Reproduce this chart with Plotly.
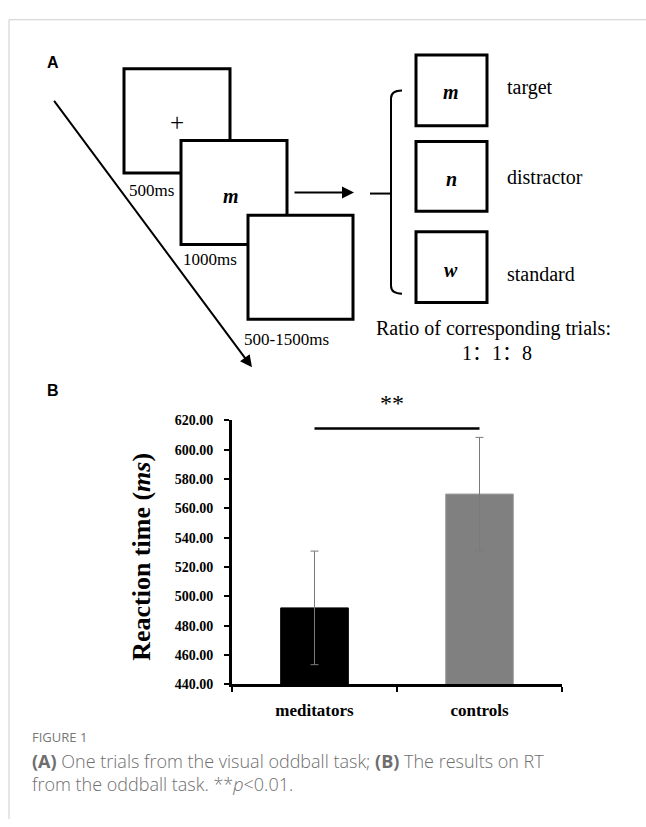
import plotly.graph_objects as go

# ---------------- data ----------------
categories = ["meditators", "controls"]
rt_means = [492.2, 569.8]
rt_errors = [38.7, 38.6]
bar_colors = ["#000000", "#808080"]
y_tick_values = [440, 460, 480, 500, 520, 540, 560, 580, 600, 620]
sig_y = 614.5
sig_label = "**"

durations = ["500ms", "1000ms", "500-1500ms"]
stim_letters = ["m", "n", "w"]
trial_types = ["target", "distractor", "standard"]
ratio_title = "Ratio of corresponding trials:"
ratio_text = "1：1：8"

# ---------------- canvas helpers ----------------
W, H = 646, 827
SERIF = "Liberation Serif, Times New Roman, serif"
SERIF_CJK = "Liberation Serif, Noto Sans CJK SC, serif"
SANS = "Liberation Sans, Arial, sans-serif"
CAP = "Open Sans, Noto Sans, sans-serif"


def px(x):
    return x / W


def py(y):
    return 1 - y / H


fig = go.Figure()

fig.add_trace(go.Bar(
    x=categories, y=rt_means,
    marker=dict(color=bar_colors, line=dict(color=["#000000", "#a0a0a0"], width=1)),
    error_y=dict(type="data", array=rt_errors, color="#7a7a7a", thickness=1, width=4),
    width=0.41,
    showlegend=False,
    hoverinfo="x+y",
))

shapes = []
annotations = []

# figure frame (light grey border, top and left)
shapes.append(dict(type="line", xref="paper", yref="paper", x0=px(9), x1=px(W), y0=py(13), y1=py(13),
                   line=dict(color="#cccccc", width=1)))
shapes.append(dict(type="line", xref="paper", yref="paper", x0=px(9), x1=px(9), y0=py(13), y1=py(H),
                   line=dict(color="#cccccc", width=1)))

# ---------- panel A: schematic ----------
def box(x0, y0, x1, y1, w=3):
    shapes.append(dict(type="rect", xref="paper", yref="paper", x0=px(x0), x1=px(x1), y0=py(y0), y1=py(y1),
                       line=dict(color="black", width=w), fillcolor="white", layer="above"))

box(124, 63, 230, 169)
box(181, 136, 287, 242)
box(248, 212, 353, 318)
box(416, 49, 487, 121)
box(416, 137, 487, 208)
box(416, 229, 487, 301)

# bracket
bracket = (f"M {px(402)},{py(85)} Q {px(391)},{py(85)} {px(391)},{py(93)} L {px(391)},{py(284)} "
           f"Q {px(391)},{py(292)} {px(402)},{py(292)}")
shapes.append(dict(type="path", xref="paper", yref="paper", path=bracket,
                   line=dict(color="black", width=2)))
shapes.append(dict(type="line", xref="paper", yref="paper", x0=px(370), x1=px(391), y0=py(190), y1=py(190),
                   line=dict(color="black", width=2)))


def text(x, y, s, size, family=SERIF, xanchor="center", yanchor="middle", color="black", weight=None, **kw):
    font = dict(family=family, size=size, color=color)
    if weight is not None:
        font["weight"] = weight
    annotations.append(dict(x=px(x), y=py(y), xref="paper", yref="paper", text=s, showarrow=False,
                            xanchor=xanchor, yanchor=yanchor, font=font, **kw))

# diagonal time arrow
annotations.append(dict(x=px(252), y=py(367), xref="paper", yref="paper", ax=53 - 252, ay=99 - 367,
                        axref="pixel", ayref="pixel", showarrow=True, arrowhead=2, arrowsize=1.2,
                        arrowwidth=2, arrowcolor="black", standoff=0, text=""))
# horizontal arrow
annotations.append(dict(x=px(354), y=py(189), xref="paper", yref="paper", ax=-61, ay=0,
                        axref="pixel", ayref="pixel", showarrow=True, arrowhead=2, arrowsize=1.2,
                        arrowwidth=2, arrowcolor="black", standoff=0, text=""))

text(177, 118, "+", 25)
text(231, 193, "<b><i>m</i></b>", 20)
text(127, 187, durations[0], 17, xanchor="left")
text(181, 257, durations[1], 17, xanchor="left")
text(242, 339, durations[2], 17, xanchor="left")

letter_y = [87, 175, 268]
label_y = [82, 173, 272]
for ly, lab_y, letter, ttype in zip(letter_y, label_y, stim_letters, trial_types):
    text(451, ly, f"<b><i>{letter}</i></b>", 20)
    text(505, lab_y, ttype, 20, xanchor="left")

text(493, 327, ratio_title, 20)
text(497, 352, ratio_text, 20, family=SERIF_CJK)

# panel labels
text(45, 57, "<b>A</b>", 16, family=SANS, xanchor="left")
text(45, 391, "<b>B</b>", 16, family=SANS, xanchor="left")

# ---------- panel B significance ----------
shapes.append(dict(type="line", xref="x", yref="y", x0=0, x1=1, y0=sig_y, y1=sig_y,
                   line=dict(color="black", width=2.5)))
annotations.append(dict(x=0.47, xref="x", y=py(403), yref="paper", text=sig_label, showarrow=False,
                        yanchor="middle", font=dict(family=SERIF, size=24, color="black")))

# y-axis title
text(142, 560, "<b>Reaction time (<i>ms</i>)</b>", 26, textangle=-90)

# ---------- caption ----------
text(30, 743, "FIGURE 1", 13, family=CAP, xanchor="left", color="#777777")
text(30, 754, "<b>(A)</b> One trials from the visual oddball task; <b>(B)</b> The results on RT<br>"
              "from the oddball task. **<i>p</i><0.01.",
     18, family=CAP, xanchor="left", yanchor="top", color="#6e6e6e", weight=300, align="left")

fig.update_layout(
    width=W, height=H, autosize=False,
    margin=dict(l=0, r=0, t=0, b=0),
    paper_bgcolor="white", plot_bgcolor="white",
    shapes=shapes, annotations=annotations,
    xaxis=dict(domain=[px(232), px(562)], range=[-0.5, 1.5], type="category",
               showline=True, linecolor="black", linewidth=3,
               ticks="outside", tickson="boundaries", ticklen=5, tickwidth=2, tickcolor="black",
               tickfont=dict(family=SERIF, size=17, color="black"), showgrid=False, zeroline=False,
               ticklabelstandoff=8,
               tickvals=categories, ticktext=[f"<b>{c}</b>" for c in categories]),
    yaxis=dict(domain=[py(690), py(421)], range=[440, 620],
               showline=True, linecolor="black", linewidth=3,
               ticks="outside", ticklen=5, tickwidth=2, tickcolor="black",
               tickvals=y_tick_values, ticktext=[f"<b>{v:.2f}</b>" for v in y_tick_values],
               tickfont=dict(family=SERIF, size=14, color="black"), showgrid=False, zeroline=False,
               ticklabelstandoff=8),
)

fig.write_html("out.html", config={"displayModeBar": False},
               post_script="document.body.style.margin='0';document.body.style.overflow='hidden';")
